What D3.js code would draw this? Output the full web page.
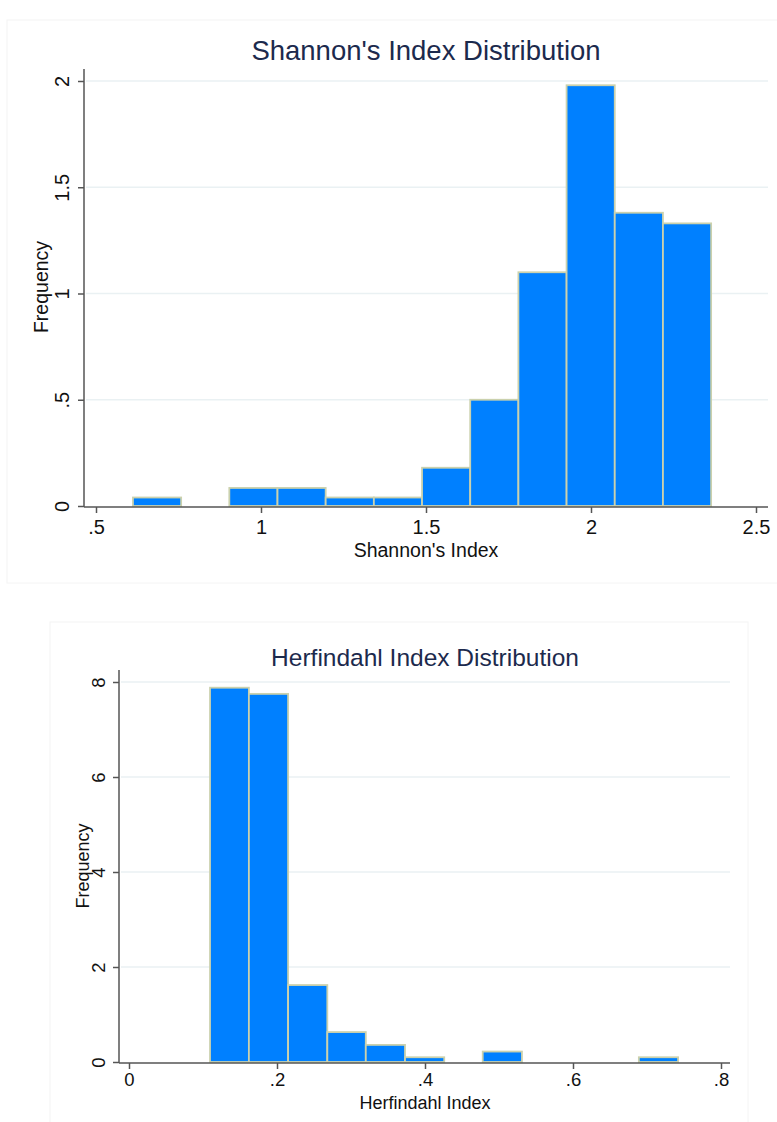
<!DOCTYPE html>
<html>
<head>
<meta charset="utf-8">
<script src="https://cdn.jsdelivr.net/npm/d3@7"></script>
<style>
  body { margin: 0; background: #fff; }
  svg { display: block; }
  text { font-family: "Liberation Sans", Arial, sans-serif; }
</style>
</head>
<body>
<div class="canvas"></div>
<script>
// Shannon's index histogram
const shannonEdges = [0.612, 0.758, 0.904, 1.05, 1.196, 1.342, 1.488, 1.634, 1.78, 1.926, 2.072, 2.218, 2.364];
const shannonHeights = [0.04, 0, 0.085, 0.085, 0.04, 0.04, 0.18, 0.5, 1.1, 1.98, 1.38, 1.33];
const shannonXTicks = [0.5, 1, 1.5, 2, 2.5];
const shannonYTicks = [0, 0.5, 1, 1.5, 2];

// Herfindahl index histogram
const herfEdges = [0.1095, 0.162, 0.215, 0.268, 0.32, 0.373, 0.426, 0.478, 0.531, 0.584, 0.637, 0.689, 0.742];
const herfHeights = [7.88, 7.75, 1.62, 0.63, 0.36, 0.1, 0, 0.22, 0, 0, 0, 0.1];
const herfXTicks = [0, 0.2, 0.4, 0.6, 0.8];
const herfYTicks = [0, 2, 4, 6, 8];

const fmt = (d) => (d === 0 ? "0" : String(d).replace(/^0\./, "."));

const svg = d3
  .select(".canvas")
  .append("svg")
  .attr("width", 777)
  .attr("height", 1122);

const drawHist = (cfg) => {
  // faint outer frame
  svg
    .append("rect")
    .attr("x", cfg.frame[0])
    .attr("y", cfg.frame[1])
    .attr("width", cfg.frame[2])
    .attr("height", cfg.frame[3])
    .attr("fill", "#fff")
    .attr("stroke", "#f4f4f4");

  const x = d3.scaleLinear().domain(cfg.xDomain).range(cfg.xRange);
  const y = d3.scaleLinear().domain(cfg.yDomain).range(cfg.yRange);

  const g = svg.append("g");

  // grid lines
  g.selectAll(".grid")
    .data(cfg.yTicks.filter((d) => d !== 0))
    .enter()
    .append("line")
    .attr("x1", cfg.axisX + 2)
    .attr("x2", cfg.axisEnd)
    .attr("y1", (d) => y(d))
    .attr("y2", (d) => y(d))
    .attr("stroke", "#eaf1f3")
    .attr("stroke-width", 1.5);

  // bars
  const bins = cfg.heights.map((h, i) => ({ x0: cfg.edges[i], x1: cfg.edges[i + 1], h }));
  g.selectAll(".bar")
    .data(bins.filter((d) => d.h > 0))
    .enter()
    .append("rect")
    .attr("x", (d) => x(d.x0))
    .attr("width", (d) => x(d.x1) - x(d.x0))
    .attr("y", (d) => y(d.h))
    .attr("height", (d) => y(0) - y(d.h))
    .attr("fill", "#0080ff")
    .attr("stroke", "#cbd1ad")
    .attr("stroke-width", 1.8);

  // axes
  const xAxis = d3
    .axisBottom(x)
    .tickValues(cfg.xTicks)
    .tickFormat(fmt)
    .tickSize(6)
    .tickSizeOuter(0);
  const yAxis = d3
    .axisLeft(y)
    .tickValues(cfg.yTicks)
    .tickFormat(fmt)
    .tickSize(6)
    .tickSizeOuter(0);

  const xg = svg
    .append("g")
    .attr("transform", `translate(0, ${y(0) + 1})`)
    .call(xAxis);
  xg.select(".domain").remove();
  xg.append("line")
    .attr("x1", cfg.axisX)
    .attr("x2", cfg.axisEnd)
    .attr("stroke", "#555")
    .attr("stroke-width", 1.5);
  xg.selectAll(".tick line").attr("stroke", "#555").attr("stroke-width", 1.5);
  xg.selectAll(".tick text")
    .attr("fill", "#111")
    .attr("font-size", cfg.tickSize)
    .attr("dy", cfg.xTickDy);

  const yg = svg
    .append("g")
    .attr("transform", `translate(${cfg.axisX}, 0)`)
    .call(yAxis);
  yg.select(".domain").remove();
  yg.append("line")
    .attr("y1", cfg.yRange[1] - 12)
    .attr("y2", y(0) + 1)
    .attr("stroke", "#555")
    .attr("stroke-width", 1.5);
  yg.selectAll(".tick line").attr("stroke", "#555").attr("stroke-width", 1.5);
  yg.selectAll(".tick text")
    .attr("fill", "#111")
    .attr("font-size", cfg.tickSize)
    .attr("x", null)
    .attr("dy", null)
    .attr("text-anchor", "middle")
    .attr("transform", `translate(${cfg.yTickOffset}, 0) rotate(-90)`);

  // titles
  svg
    .append("text")
    .attr("x", cfg.titlePos[0])
    .attr("y", cfg.titlePos[1])
    .attr("text-anchor", "middle")
    .attr("font-size", cfg.titleSize)
    .attr("fill", "#1c2a4d")
    .text(cfg.title);

  svg
    .append("text")
    .attr("x", cfg.xTitlePos[0])
    .attr("y", cfg.xTitlePos[1])
    .attr("text-anchor", "middle")
    .attr("font-size", cfg.labelSize)
    .attr("fill", "#111")
    .text(cfg.xTitle);

  svg
    .append("text")
    .attr("transform", `translate(${cfg.yTitlePos[0]}, ${cfg.yTitlePos[1]}) rotate(-90)`)
    .attr("text-anchor", "middle")
    .attr("font-size", cfg.labelSize)
    .attr("fill", "#111")
    .text("Frequency");
};

drawHist({
  frame: [7, 20, 775, 563],
  edges: shannonEdges,
  heights: shannonHeights,
  xTicks: shannonXTicks,
  yTicks: shannonYTicks,
  xDomain: [0.5, 2.5],
  xRange: [96, 756],
  yDomain: [0, 2],
  yRange: [506, 81],
  axisX: 84,
  axisEnd: 768,
  tickSize: 20,
  xTickDy: "0.88em",
  yTickOffset: -15,
  titleSize: 27.5,
  labelSize: 19.5,
  title: "Shannon's Index Distribution",
  titlePos: [426, 60],
  xTitle: "Shannon's Index",
  xTitlePos: [426, 557],
  yTitlePos: [48, 287],
});

drawHist({
  frame: [50, 622, 698, 520],
  edges: herfEdges,
  heights: herfHeights,
  xTicks: herfXTicks,
  yTicks: herfYTicks,
  xDomain: [0, 0.8],
  xRange: [129, 721],
  yDomain: [0, 8],
  yRange: [1062, 682],
  axisX: 119,
  axisEnd: 730,
  tickSize: 18.5,
  xTickDy: "0.78em",
  yTickOffset: -14,
  titleSize: 24.5,
  labelSize: 18,
  title: "Herfindahl Index Distribution",
  titlePos: [425, 666],
  xTitle: "Herfindahl Index",
  xTitlePos: [425, 1109],
  yTitlePos: [89, 866],
});
</script>
</body>
</html>
